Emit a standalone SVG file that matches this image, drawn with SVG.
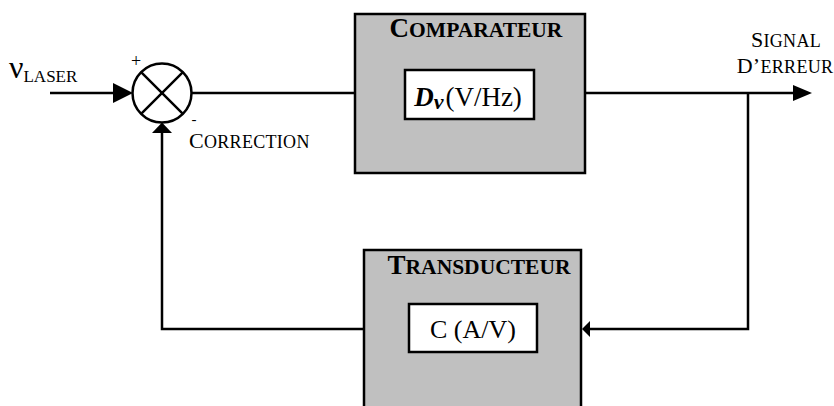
<svg xmlns="http://www.w3.org/2000/svg" width="834" height="406" viewBox="0 0 834 406">
<style>
.ln{fill:none;stroke:#000;stroke-width:2.5}
.box{fill:#c0c0c0;stroke:#000;stroke-width:2.5}
.inner{fill:#fff;stroke:#000;stroke-width:2.5}
text{font-family:"Liberation Serif","Times New Roman",serif;fill:#000}
.ttl{font-weight:bold;font-size:27px}
.sc{font-size:21.5px}
.lbl{font-size:22px;letter-spacing:0.3px}
.lsc{font-size:18px}
</style>
<rect width="834" height="406" fill="#fff"/>
<g id="connectors">
<path class="ln" d="M50,93 H120"/>
<polygon points="133,93 113,83 113,103" fill="#000"/>
<path class="ln" d="M191.5,93 H355"/>
<path class="ln" d="M585,93 H798"/>
<polygon points="812,93 793,85 793,101" fill="#000"/>
<path class="ln" d="M748,93 V329 H588"/>
<polygon points="582,329 590,321 590,337" fill="#000"/>
<path class="ln" d="M364,329 H162 V130"/>
<polygon points="162,122.5 152,133 172,133" fill="#000"/>
</g>
<g id="sum">
<circle class="ln" cx="162" cy="93" r="29.5"/>
<path class="ln" d="M141.1,72.1 L182.9,113.9 M182.9,72.1 L141.1,113.9"/>
<text x="136" y="67" font-size="18" text-anchor="middle">+</text>
<text x="194" y="124" font-size="15" text-anchor="middle">-</text>
</g>
<g id="input-label">
<text x="9" y="78" font-size="32">ν<tspan font-size="17" dy="4">LASER</tspan></text>
</g>
<g id="correction-label">
<text x="189" y="148" class="lbl">C<tspan class="lsc">ORRECTION</tspan></text>
</g>
<g id="signal-label">
<text x="786" y="47" class="lbl" text-anchor="middle">S<tspan class="lsc">IGNAL</tspan></text>
<text x="785" y="73" class="lbl" text-anchor="middle" letter-spacing="0">D’<tspan class="lsc">ERREUR</tspan></text>
</g>
<g id="comparateur">
<rect class="box" x="355" y="14" width="230" height="159"/>
<text x="476" y="37" class="ttl" text-anchor="middle">C<tspan class="sc">OMPARATEUR</tspan></text>
<rect class="inner" x="405" y="70" width="129" height="49"/>
<text x="468" y="106" font-size="27" text-anchor="middle"><tspan font-weight="bold" font-style="italic">D</tspan><tspan font-weight="bold" font-style="italic" font-size="22" dy="3">ν</tspan><tspan dy="-3" dx="2">(V/Hz)</tspan></text>
</g>
<g id="transducteur">
<rect class="box" x="364" y="250" width="217" height="170"/>
<text x="479" y="274" class="ttl" text-anchor="middle">T<tspan class="sc">RANSDUCTEUR</tspan></text>
<rect class="inner" x="409" y="304" width="128" height="48"/>
<text x="473" y="338" font-size="26" text-anchor="middle">C (A/V)</text>
</g>
</svg>
